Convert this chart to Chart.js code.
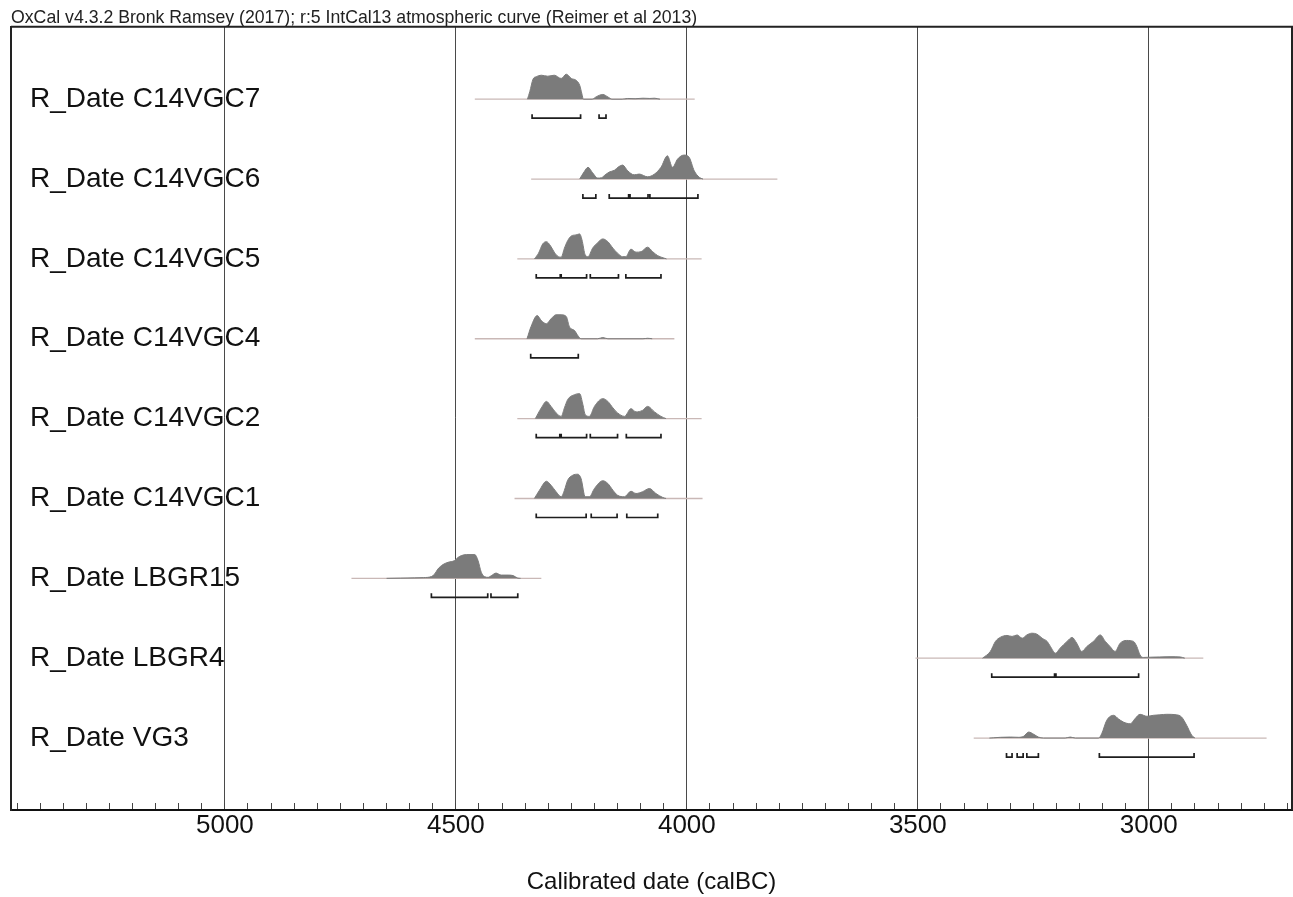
<!DOCTYPE html>
<html>
<head>
<meta charset="utf-8">
<title>OxCal multiplot</title>
<script src="https://cdn.jsdelivr.net/npm/chart.js@4.4.0/dist/chart.umd.min.js"></script>
<style>
  html, body { margin: 0; padding: 0; background: #fff; }
  #wrap { width: 1293px; height: 897px; }
</style>
</head>
<body>
<div id="wrap"><canvas id="chart"></canvas></div>
<script>
// row names, top to bottom
const rowLabels = [
  'R_Date C14VGC7', 'R_Date C14VGC6', 'R_Date C14VGC5', 'R_Date C14VGC4',
  'R_Date C14VGC2', 'R_Date C14VGC1', 'R_Date LBGR15', 'R_Date LBGR4', 'R_Date VG3'
];

// labelled ticks on the calBC axis (minor every 50)
const majorTicks = [5000, 4500, 4000, 3500, 3000];

// extent of the thin line under each distribution [from, to] calBC
const spans = [
  [4459, 3983], [4337, 3804], [4367, 3968], [4459, 4027], [4367, 3968],
  [4373, 3966], [4726, 4315], [3505, 2882], [3379, 2745]
];

// posterior densities, [calBC, relative probability]
const c14vgc7 = [[4345,0],[4340,0.3],[4333,0.8],[4326,0.9],[4315,0.96],[4301,0.92],[4287,0.96],[4272,0.83],[4261,1.0],[4250,0.83],[4240,0.76],[4232,0.56],[4227,0.2],[4224,0],[4205,0],[4196,0.1],[4182,0.19],[4170,0.08],[4162,0],[4140,0],[4128,0.03],[4112,0.02],[4095,0.04],[4080,0.03],[4070,0.04],[4058,0]];
const c14vgc6 = [[4232,0],[4222,0.3],[4214,0.47],[4204,0.25],[4193,0.04],[4185,0.05],[4178,0.15],[4168,0.28],[4157,0.35],[4147,0.5],[4139,0.56],[4128,0.33],[4114,0.17],[4103,0.2],[4085,0.09],[4070,0.2],[4056,0.47],[4042,0.93],[4031,0.47],[4020,0.8],[4006,0.96],[3995,0.87],[3984,0.33],[3973,0.07],[3965,0]];
const c14vgc5 = [[4330,0],[4321,0.23],[4312,0.6],[4304,0.69],[4295,0.52],[4287,0.27],[4278,0.09],[4272,0.07],[4265,0.43],[4258,0.73],[4250,0.92],[4240,0.96],[4232,1.0],[4227,0.76],[4220,0.16],[4214,0.09],[4204,0.43],[4193,0.65],[4182,0.8],[4171,0.69],[4160,0.43],[4150,0.23],[4139,0.09],[4132,0.09],[4121,0.39],[4110,0.27],[4099,0.29],[4085,0.47],[4074,0.29],[4063,0.13],[4049,0.03],[4044,0]];
const c14vgc4 = [[4346,0],[4337,0.5],[4324,0.93],[4315,0.73],[4304,0.6],[4294,0.8],[4283,0.96],[4272,0.96],[4261,0.89],[4254,0.47],[4243,0.33],[4236,0.13],[4229,0],[4193,0],[4182,0.05],[4171,0],[4095,0],[4085,0.02],[4075,0]];
const c14vgc2 = [[4328,0],[4315,0.43],[4304,0.69],[4294,0.49],[4283,0.23],[4272,0.09],[4265,0.43],[4258,0.76],[4243,0.96],[4232,1.0],[4225,0.56],[4220,0.16],[4211,0.09],[4200,0.49],[4182,0.8],[4171,0.69],[4160,0.43],[4150,0.23],[4135,0.09],[4121,0.4],[4110,0.27],[4096,0.33],[4085,0.49],[4070,0.27],[4056,0.09],[4045,0]];
const c14vgc1 = [[4330,0],[4319,0.33],[4304,0.69],[4294,0.53],[4283,0.27],[4272,0.07],[4265,0.33],[4258,0.73],[4247,0.93],[4236,0.97],[4229,0.8],[4220,0.07],[4211,0.07],[4200,0.4],[4182,0.71],[4171,0.6],[4160,0.33],[4150,0.13],[4135,0.07],[4121,0.29],[4110,0.2],[4096,0.27],[4081,0.4],[4067,0.2],[4052,0.04],[4045,0]];
const lbgr15 = [[4650,0],[4620,0.01],[4589,0.02],[4570,0.03],[4553,0.07],[4546,0.17],[4539,0.37],[4528,0.55],[4517,0.64],[4503,0.71],[4495,0.84],[4488,0.91],[4477,0.95],[4459,0.95],[4452,0.71],[4445,0.24],[4438,0.07],[4430,0.04],[4423,0.11],[4413,0.21],[4402,0.13],[4387,0.13],[4376,0.11],[4366,0.01],[4360,0]];
const lbgr4 = [[3360,0],[3343,0.27],[3332,0.67],[3321,0.84],[3307,0.91],[3296,0.87],[3285,0.93],[3274,0.8],[3264,0.93],[3253,1.0],[3242,0.96],[3231,0.8],[3220,0.67],[3213,0.47],[3202,0.2],[3192,0.4],[3177,0.67],[3166,0.83],[3156,0.6],[3145,0.27],[3134,0.47],[3120,0.67],[3105,0.93],[3094,0.67],[3084,0.47],[3073,0.27],[3062,0.6],[3048,0.71],[3033,0.67],[3026,0.47],[3019,0.13],[3012,0.03],[2997,0.04],[2976,0.05],[2954,0.06],[2932,0.05],[2922,0]];
const vg3 = [[3345,0],[3336,0.01],[3321,0.03],[3300,0.04],[3282,0.03],[3271,0.07],[3260,0.24],[3249,0.15],[3239,0.04],[3228,0],[3181,0],[3170,0.04],[3159,0],[3109,0],[3102,0.17],[3091,0.71],[3076,0.91],[3066,0.77],[3055,0.64],[3040,0.57],[3030,0.77],[3019,0.95],[3004,0.87],[2990,0.91],[2976,0.93],[2961,0.95],[2940,0.93],[2929,0.84],[2918,0.51],[2907,0.11],[2900,0]];

// 95.4% ranges [from, to] calBC
const c14vgc7Ranges = [[4335,4230],[4190,4175]];
const c14vgc6Ranges = [[4225,4197],[4168,4126],[4123,4084],[4080,3976]];
const c14vgc5Ranges = [[4326,4274],[4272,4217],[4209,4148],[4132,4056]];
const c14vgc4Ranges = [[4338,4235]];
const c14vgc2Ranges = [[4326,4275],[4272,4217],[4209,4150],[4131,4056]];
const c14vgc1Ranges = [[4326,4218],[4207,4151],[4130,4063]];
const lbgr15Ranges = [[4553,4431],[4424,4366]];
const lbgr4Ranges = [[3340,3204],[3201,3022]];
const vg3Ranges = [[3308,3296],[3285,3272],[3264,3239],[3107,2902]];

const densities = [c14vgc7, c14vgc6, c14vgc5, c14vgc4, c14vgc2, c14vgc1, lbgr15, lbgr4, vg3];
const ranges = [c14vgc7Ranges, c14vgc6Ranges, c14vgc5Ranges, c14vgc4Ranges, c14vgc2Ranges,
  c14vgc1Ranges, lbgr15Ranges, lbgr4Ranges, vg3Ranges];

// y is measured in rows from the top of the plot
const ROW0 = 0.908;     // first baseline
const PEAK = 0.313;     // height of a density of 1
const BR_LINE = 0.238;  // range bar below baseline
const BR_TICK = 0.188;  // top of the end ticks

Chart.defaults.font.family = "'Liberation Sans', Arial, Helvetica, sans-serif";
Chart.defaults.color = '#111';

const datasets = [];
rowLabels.forEach((name, k) => {
  const b = ROW0 + k;
  datasets.push({
    label: name + ' span',
    data: spans[k].map(x => ({ x, y: b })),
    borderColor: '#c9b8b6',
    borderWidth: 1.3,
    pointRadius: 0,
    fill: false,
    order: 3
  });
  datasets.push({
    label: name,
    data: densities[k].map(([x, p]) => ({ x, y: b - p * PEAK })),
    borderColor: '#7b7b7b',
    backgroundColor: '#7b7b7b',
    borderWidth: 1,
    pointRadius: 0,
    cubicInterpolationMode: 'monotone',
    fill: { value: b },
    order: 2
  });
  const pts = [];
  ranges[k].forEach(([a, c]) => {
    pts.push({ x: a, y: b + BR_TICK }, { x: a, y: b + BR_LINE },
             { x: c, y: b + BR_LINE }, { x: c, y: b + BR_TICK }, { x: c, y: null });
  });
  datasets.push({
    label: name + ' ranges',
    data: pts,
    borderColor: '#1e1e1e',
    borderWidth: 1.7,
    pointRadius: 0,
    spanGaps: false,
    fill: false,
    order: 1
  });
});

// top and right edges of the frame
const framePlugin = {
  id: 'frame',
  afterDraw(chart) {
    const { ctx, chartArea: a } = chart;
    ctx.save();
    ctx.strokeStyle = '#222';
    ctx.lineWidth = 2;
    ctx.beginPath();
    ctx.moveTo(a.left, a.top);
    ctx.lineTo(a.right, a.top);
    ctx.lineTo(a.right, a.bottom);
    ctx.stroke();
    ctx.restore();
  }
};

new Chart(document.getElementById('chart'), {
  type: 'line',
  data: { datasets },
  plugins: [framePlugin],
  options: {
    responsive: true,
    maintainAspectRatio: false,
    animation: false,
    layout: { padding: { left: 11, right: 1, top: 0, bottom: 0 } },
    plugins: {
      legend: { display: false },
      tooltip: { enabled: false },
      title: {
        display: true,
        text: 'OxCal v4.3.2 Bronk Ramsey (2017); r:5 IntCal13 atmospheric curve (Reimer et al 2013)',
        align: 'start',
        color: '#222',
        font: { size: 17.7, weight: 'normal', lineHeight: 1 },
        padding: { top: 9, bottom: 0 }
      }
    },
    scales: {
      x: {
        type: 'linear',
        reverse: true,
        min: 2690,
        max: 5463,
        z: 1,
        afterBuildTicks: s => {
          s.ticks = [];
          for (let v = 2700; v <= 5450; v += 50) s.ticks.push({ value: v });
        },
        afterFit: s => { s.height = 87; s.paddingLeft = 0; s.paddingRight = 0; },
        ticks: {
          autoSkip: false,
          maxRotation: 0,
          padding: 7,
          color: '#111',
          font: { size: 26 },
          callback: v => majorTicks.includes(v) ? String(v) : ''
        },
        grid: {
          color: c => (c.tick && majorTicks.includes(c.tick.value)) ? '#4a4a4a' : 'rgba(0,0,0,0)',
          lineWidth: 1,
          tickLength: -7,
          tickColor: '#444',
          tickWidth: 1
        },
        border: { display: true, color: '#111', width: 2 },
        title: {
          display: true,
          text: 'Calibrated date (calBC)',
          color: '#111',
          font: { size: 24 },
          padding: 0
        }
      },
      y: {
        type: 'linear',
        reverse: true,
        min: 0,
        max: 9.809,
        afterBuildTicks: s => {
          s.ticks = rowLabels.map((_, k) => ({ value: ROW0 + k }));
        },
        afterFit: s => { s.width = 0; s.paddingTop = 0; s.paddingBottom = 0; },
        grid: { display: false, drawTicks: false },
        border: { display: true, color: '#222', width: 2 },
        ticks: {
          mirror: true,
          padding: 19,
          autoSkip: false,
          color: '#111',
          font: { size: 28 },
          callback: (v, i) => rowLabels[i]
        }
      }
    }
  }
});
</script>
</body>
</html>
